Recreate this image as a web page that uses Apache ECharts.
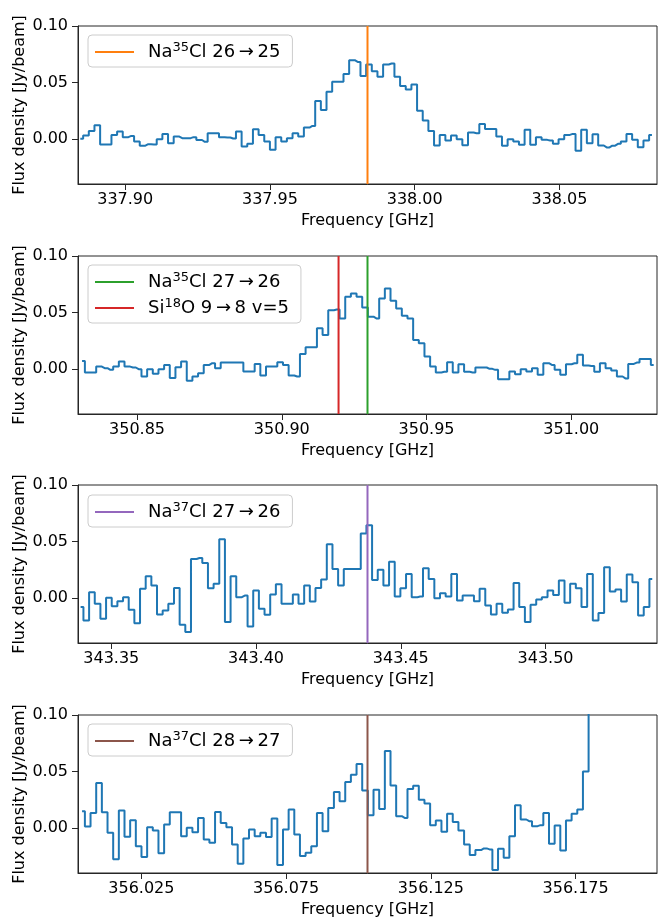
<!DOCTYPE html>
<html>
<head>
<meta charset="utf-8">
<script src="https://cdn.jsdelivr.net/npm/echarts@6/dist/echarts.min.js"></script>
<style>
  html, body { margin: 0; padding: 0; background: #ffffff; }
  #chart { width: 660px; height: 920px; }
</style>
</head>
<body>
<div id="chart"></div>
<script>
// channel spacing and first channel of every spectrum (GHz)
const chanWidth = 0.001955
const startFreq = [337.8845, 350.8310, 343.3394, 356.0045]

// rest frequencies of the marked lines (GHz), window is +-0.1 GHz around the first
const lineNames = [
  ['Na35Cl 26→25'],
  ['Na35Cl 27→26', 'Si18O 9→8 v=5'],
  ['Na37Cl 27→26'],
  ['Na37Cl 28→27'],
]
const lineFreqs = [
  [337.9837],
  [350.9296, 350.9196],
  [343.4385],
  [356.1031],
]
const lineColors = [
  ['#ff7f0e'],
  ['#2ca02c', '#d62728'],
  ['#9467bd'],
  ['#8c564b'],
]

const xTicks = [
  [337.90, 337.95, 338.00, 338.05],
  [350.85, 350.90, 350.95, 351.00],
  [343.35, 343.40, 343.45, 343.50],
  [356.025, 356.075, 356.125, 356.175],
]
const xDecimals = [2, 2, 2, 3]
const yTicks = [0, 0.05, 0.10]

// flux density per channel [Jy/beam]
const fluxNa35Cl2625 = [
  0.000, 0.003, 0.007, 0.012, -0.005, -0.005, 0.0035, 0.0065, 0.0015, 0.0026,
  -0.0024, -0.006, -0.0047, -0.005, -0.0003, 0.0044, -0.0038, 0.002, 0.0006, 0.0006,
  0.0015, -0.001, -0.0026, 0.005, 0.005, 0.0015, 0.0012, 0.0003, 0.0065, -0.0068,
  -0.0044, 0.0085, 0.0035, -0.0024, -0.0097, 0.0015, -0.0024, 0.0006, 0.005, 0.002,
  0.010, 0.0115, 0.0335, 0.0256, 0.0418, 0.0506, 0.0506, 0.0574, 0.0697, 0.0682,
  0.0556, 0.0659, 0.060, 0.055, 0.0659, 0.0668, 0.055, 0.0468, 0.0438, 0.0482,
  0.025, 0.0162, 0.007, -0.0059, 0.0035, -0.0015, 0.003, -0.0003, -0.0056, 0.0056,
  0.005, 0.0132, 0.0088, 0.0088, 0.002, -0.006, -0.0003, -0.0024, -0.0053, 0.008,
  -0.0053, 0.0015, -0.0009, -0.0015, -0.0044, -0.0003, 0.0035, 0.0044, -0.0106, 0.008,
  -0.0038, 0.0041, -0.0059, -0.0076, -0.006, -0.0044, -0.0024, 0.0044, -0.0009, -0.0074,
  -0.0015, 0.0035,
]
const fluxNa35Cl2726 = [
  0.007, -0.0032, -0.0032, 0.002, 0.0006, -0.0009, 0.002, 0.0065, 0.002, 0.0012,
  -0.0003, -0.0068, -0.0003, -0.0044, -0.0003, 0.0035, -0.0082, 0.0015, 0.0065, -0.0106,
  -0.0068, -0.0038, 0.0035, 0.005, 0.0006, 0.0056, 0.0056, 0.0056, 0.0056, -0.0024,
  -0.0024, 0.0044, -0.0059, 0.002, 0.002, 0.0059, 0.0035, -0.0059, -0.0068, 0.0132,
  0.0191, 0.0191, 0.0359, 0.030, 0.052, 0.0526, 0.0447, 0.0638, 0.0668, 0.0638,
  0.0544, 0.0462, 0.0447, 0.0624, 0.0712, 0.0603, 0.0535, 0.047, 0.0447, 0.0256,
  0.0226, 0.0109, 0.002, -0.0032, -0.0026, 0.0059, -0.0032, 0.0041, -0.0026, -0.0032,
  0.0012, 0.0012, 0.0, -0.0009, -0.0091, -0.0091, -0.0024, -0.0047, -0.0003, -0.0024,
  0.0006, -0.0053, 0.005, 0.0035, -0.0009, -0.0053, 0.0041, 0.005, 0.0124, 0.003,
  0.0026, -0.0026, 0.005, 0.0006, -0.0015, -0.0068, -0.0085, 0.0044, 0.0056, 0.0088,
  0.0088, 0.0035,
]
const fluxNa37Cl2726 = [
  -0.0082, -0.020, 0.005, -0.0053, -0.0185, 0.0, -0.0074, -0.0029, 0.0006, -0.0106,
  -0.0224, 0.008, 0.0191, 0.0109, -0.0147, -0.0112, -0.0053, 0.0088, -0.0238, -0.0303,
  0.0344, 0.0353, 0.0309, 0.0085, 0.0124, 0.052, -0.0215, 0.0191, 0.0006, 0.002,
  -0.0253, 0.0065, -0.0097, -0.015, 0.003, 0.0121, -0.0053, -0.0053, 0.003, -0.0053,
  0.0109, -0.0032, 0.0088, 0.0162, 0.0476, 0.0256, 0.0109, 0.0256, 0.0256, 0.0256,
  0.057, 0.0644, 0.0159, 0.025, 0.0109, 0.032, 0.0012, 0.0085, 0.0212, 0.0006,
  0.0012, 0.0262, 0.0168, -0.0003, 0.0041, 0.0012, 0.0212, -0.0024, 0.002, 0.002,
  -0.0029, 0.008, -0.0068, -0.0147, -0.0053, -0.0132, -0.0103, 0.0132, -0.0082, -0.0215,
  -0.006, -0.0015, 0.0006, 0.0065, 0.0026, 0.0153, -0.0044, 0.0124, 0.0085, -0.0082,
  0.0212, -0.020, -0.0135, 0.0271, 0.0056, 0.0074, -0.0032, 0.0206, 0.0138, -0.0156,
  -0.0082, 0.0168,
]
const fluxNa37Cl2827 = [
  0.0147, 0.0012, 0.0132, 0.0397, 0.0138, -0.0044, -0.0279, 0.0153, -0.0079, 0.0068,
  -0.0162, -0.0259, 0.0006, -0.0024, -0.0226, 0.0029, 0.0138, 0.0138, -0.0074, 0.0,
  -0.0038, 0.0088, -0.0103, -0.0132, 0.0141, 0.0044, 0.0006, -0.0147, -0.0318, -0.0094,
  -0.0015, -0.0074, -0.0044, -0.0082, 0.0082, -0.0329, -0.0015, 0.0162, -0.0059, -0.025,
  -0.0221, -0.0162, 0.0132, -0.0029, 0.0176, 0.0318, 0.0235, 0.0406, 0.047, 0.0565,
  0.0332, 0.0112, 0.0338, 0.0168, 0.0682, 0.0376, 0.0103, 0.0088, 0.0344, 0.0374,
  0.025, 0.0215, 0.0024, 0.0065, -0.0035, 0.0124, 0.0053, -0.0024, -0.0147, -0.0241,
  -0.0197, -0.0182, -0.0191, -0.0374, -0.0185, -0.0265, -0.0074, 0.020, 0.0074, 0.0059,
  0.0015, 0.0024, 0.0132, -0.0141, 0.0021, -0.020, 0.0065, 0.0124, 0.0162, 0.050,
  0.13,
]
const spectra = [fluxNa35Cl2625, fluxNa35Cl2726, fluxNa37Cl2726, fluxNa37Cl2827]

const yMin = -0.04
const yMax = 0.10
const panelTops = [26, 256, 485, 715]
const panelHeight = 158
const legendTops = [35, 265, 495, 724]

const font = 'DejaVu Sans'
const axisColor = '#262626'

const chart = echarts.init(document.getElementById('chart'))

const grids = []
const xAxes = []
const yAxes = []
const legends = []
const series = []

// turn "Na35Cl 26→25" into rich text with a superscripted isotope number
const richName = (name) => {
  const m = name.match(/^([A-Za-z]+?)(\d+)(\D.*)$/)
  const rest = m[3].replace('→', '\u2009→\u2009')
  return '{g|}{t|' + m[1] + '}{s|' + m[2] + '}{t|' + rest + '}'
}

panelTops.forEach((top, i) => {
  const centre = lineFreqs[i][0]
  grids.push({
    left: 78,
    right: 3,
    top: top,
    height: panelHeight,
    show: true,
    borderColor: axisColor,
    borderWidth: 1,
    outerBoundsMode: 'none',
  })
  xAxes.push({
    type: 'value',
    gridIndex: i,
    min: centre - 0.1,
    max: centre + 0.1,
    name: 'Frequency [GHz]',
    nameLocation: 'middle',
    nameGap: 29,
    nameMoveOverlap: false,
    nameTextStyle: { fontFamily: font, fontSize: 16, color: '#000' },
    axisLine: { show: true, onZero: false, lineStyle: { color: axisColor, width: 1 } },
    axisTick: { show: true, length: 6, customValues: xTicks[i], lineStyle: { color: axisColor } },
    axisLabel: {
      customValues: xTicks[i],
      formatter: (v) => v.toFixed(xDecimals[i]),
      fontFamily: font,
      fontSize: 16,
      color: '#000',
      margin: 8,
    },
    splitLine: { show: false },
  })
  yAxes.push({
    type: 'value',
    gridIndex: i,
    min: yMin,
    max: yMax,
    name: 'Flux density [Jy/beam]',
    nameLocation: 'middle',
    nameRotate: 90,
    nameGap: 50,
    nameMoveOverlap: false,
    nameTextStyle: { fontFamily: font, fontSize: 16, color: '#000' },
    axisLine: { show: true, lineStyle: { color: axisColor, width: 1 } },
    axisTick: { show: true, length: 6, customValues: yTicks, lineStyle: { color: axisColor } },
    axisLabel: {
      customValues: yTicks,
      formatter: (v) => v.toFixed(2),
      fontFamily: font,
      fontSize: 16,
      color: '#000',
      margin: 10,
    },
    splitLine: { show: false },
  })
  legends.push({
    orient: 'vertical',
    left: 88,
    top: legendTops[i],
    data: lineNames[i],
    selectedMode: false,
    icon: 'rect',
    itemWidth: 39,
    itemHeight: 2,
    itemGap: 6,
    padding: [6, 12, 6, 7],
    borderColor: '#cccccc',
    borderWidth: 1,
    borderRadius: 4,
    backgroundColor: 'rgba(255,255,255,0.8)',
    formatter: richName,
    textStyle: {
      fontFamily: font,
      color: '#000',
      rich: {
        g: { width: 9 },
        t: { fontFamily: font, fontSize: 18, lineHeight: 22, color: '#000' },
        s: { fontFamily: font, fontSize: 13, lineHeight: 12, verticalAlign: 'top', color: '#000' },
      },
    },
  })

  series.push({
    type: 'line',
    xAxisIndex: i,
    yAxisIndex: i,
    step: 'middle',
    symbol: 'none',
    silent: true,
    z: 2,
    lineStyle: { color: '#1f77b4', width: 2 },
    itemStyle: { color: '#1f77b4' },
    data: spectra[i].map((v, k) => [startFreq[i] + k * chanWidth, v]),
  })
  lineFreqs[i].forEach((f, j) => {
    series.push({
      type: 'line',
      name: lineNames[i][j],
      xAxisIndex: i,
      yAxisIndex: i,
      symbol: 'none',
      silent: true,
      z: 3,
      lineStyle: { color: lineColors[i][j], width: 2 },
      itemStyle: { color: lineColors[i][j] },
      data: [[f, yMin], [f, yMax]],
    })
  })
})

chart.setOption({
  animation: false,
  backgroundColor: '#ffffff',
  grid: grids,
  xAxis: xAxes,
  yAxis: yAxes,
  legend: legends,
  series: series,
})
</script>
</body>
</html>
